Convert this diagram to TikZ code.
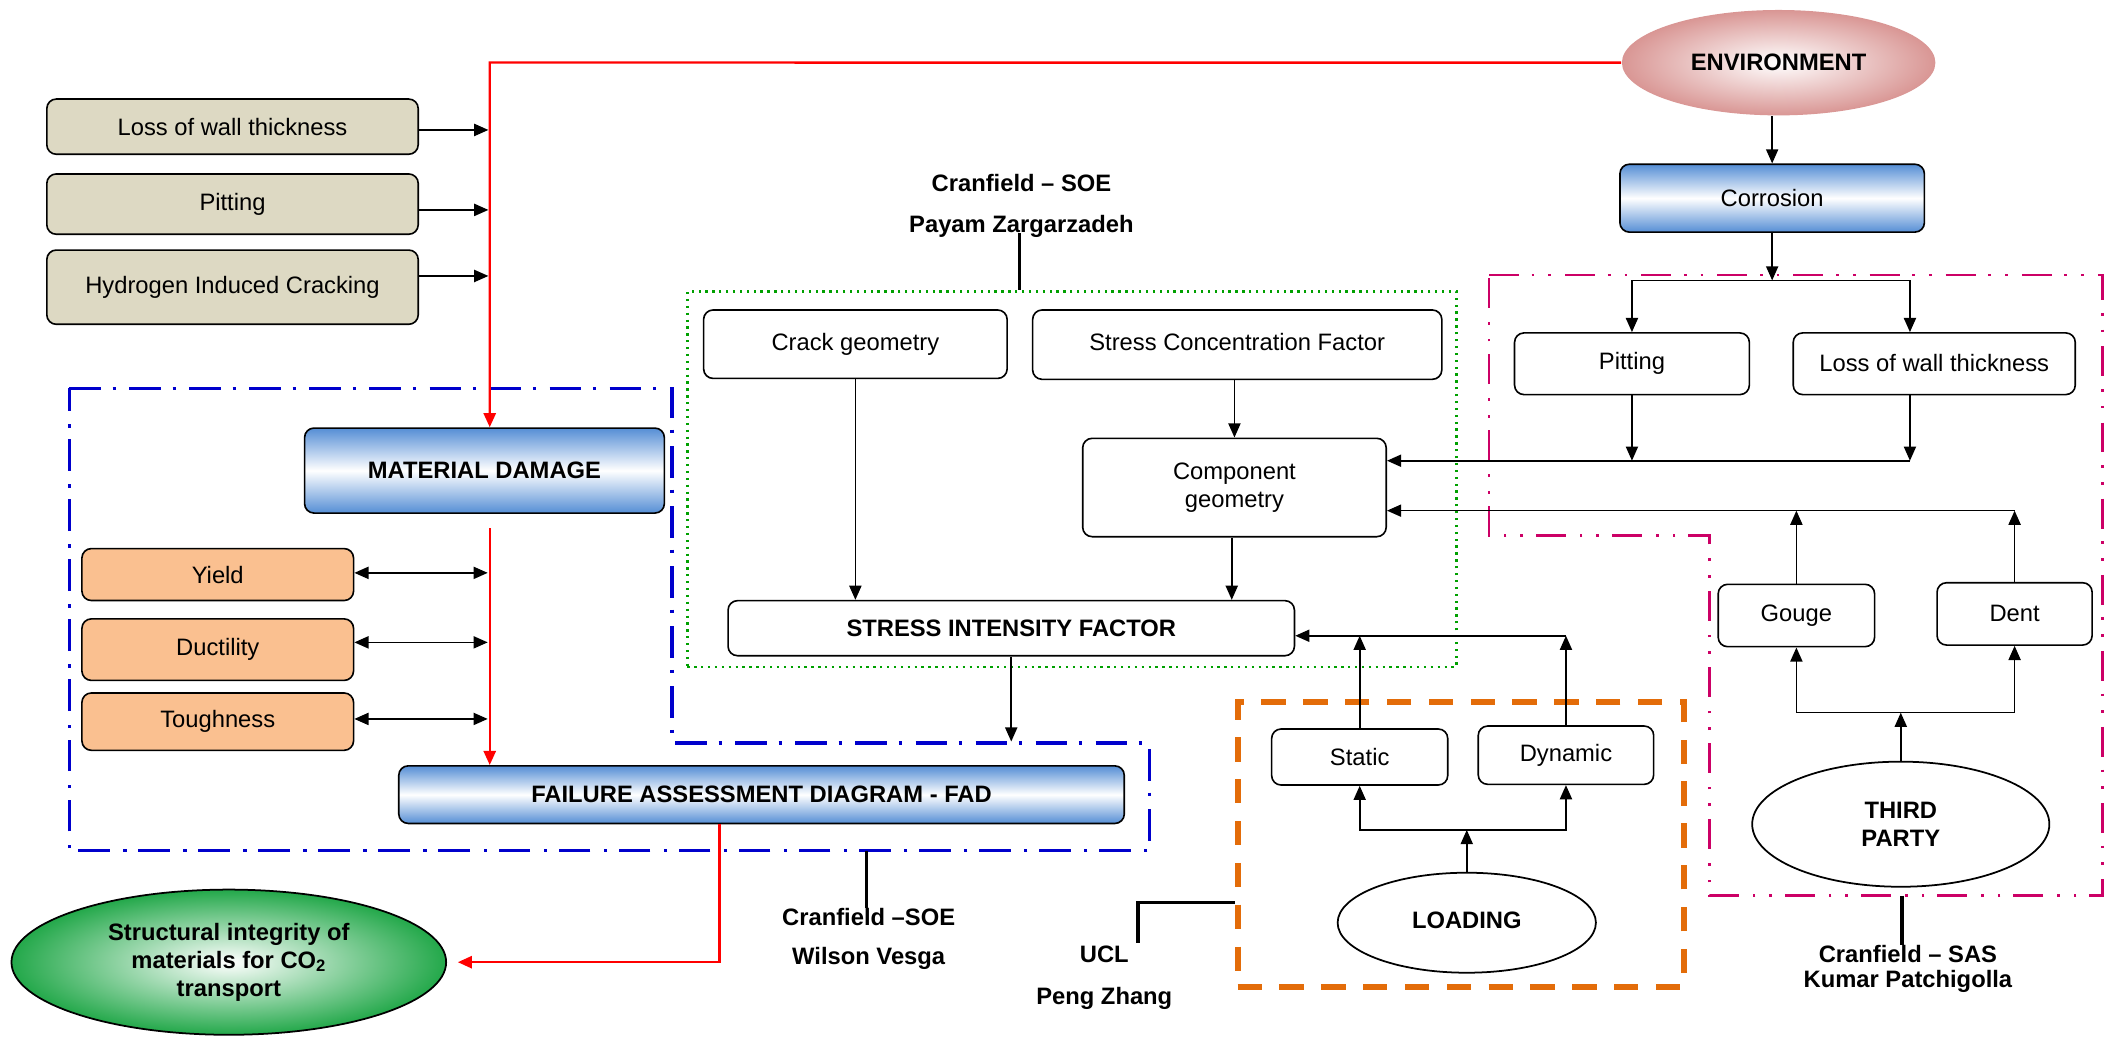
\documentclass[tikz,border=0pt]{standalone}
\usepackage{fontspec}
\setmainfont{Liberation Sans}
\usetikzlibrary{arrows.meta,shapes.geometric,calc}
\definecolor{beige}{HTML}{DDD9C3}
\definecolor{peach}{HTML}{FAC090}
\definecolor{bluG}{HTML}{558ED5}
\definecolor{envR}{HTML}{D99694}
\definecolor{grnG}{HTML}{23A84A}
\definecolor{grnD}{HTML}{00A000}
\definecolor{bluD}{HTML}{0000CC}
\definecolor{magD}{HTML}{CC0066}
\definecolor{orgD}{HTML}{E36C09}
\newcommand\myfs{\fontsize{17.6}{21}\selectfont}
\begin{document}
\begin{tikzpicture}[x=1pt,y=-1pt,
  >={Triangle[length=10.5pt,width=9pt]},
  every node/.style={font=\myfs, inner sep=0pt},
  box/.style={draw, line width=1.2pt, rounded corners=7pt, fill=white},
  tanbox/.style={box, fill=beige},
  peachbox/.style={box, fill=peach},
  gradbox/.style={box, top color=bluG, bottom color=bluG, middle color=white, font=\myfs\bfseries},
  oval/.style={ellipse, draw, line width=1.3pt, fill=white, font=\myfs\bfseries},
  arr/.style={->, line width=1.2pt},
  dblarr/.style={<->, line width=1.2pt},
  redarr/.style={->, draw=red, line width=1.8pt},
  lbl/.style={line width=2.6pt},
  lab/.style={font=\myfs\bfseries},
  grnreg/.style={draw=grnD, line width=1.7pt, dash pattern=on 1.7pt off 3.4pt},
  orgreg/.style={draw=orgD, line width=4.5pt, dash pattern=on 18pt off 13pt},
  blureg/.style={draw=bluD, line width=2.5pt, dash pattern=on 23.5pt off 8.6pt on 2.5pt off 9.9pt},
  magreg/.style={draw=magD, line width=2pt, dash pattern=on 22.2pt off 9.4pt on 2pt off 10.4pt on 2pt off 10.4pt}
]
\useasboundingbox (0,0) rectangle (1568,768);

% ---------- region outlines ----------
\node[grnreg, minimum width=569.8pt, minimum height=277.9pt] (grn) at (794.3,355.05) {};
\node[orgreg, minimum width=330.5pt, minimum height=211.6pt] (org) at (1082.35,625.8) {};
\draw[blureg] (51.3,287.8) -- (497.9,287.8) -- (497.9,550.7) -- (851.8,550.7) -- (851.8,630.4) -- (51.3,630.4) -- cycle;
\draw[magreg] (1103.4,203.8) -- (1558.1,203.8) -- (1558.1,663.7) -- (1266.6,663.7) -- (1266.6,397) -- (1103.4,397) -- cycle;
\coordinate (bb) at (642,630.4);
\coordinate (mb) at (1409.3,663.7);

% ---------- left column ----------
\node[tanbox, minimum width=275.2pt, minimum height=40.9pt] (lw1) at (172.3,93.85) {Loss of wall thickness};
\node[tanbox, minimum width=275.2pt, minimum height=44.7pt] (pit1) at (172.3,151.25) {Pitting};
\node[tanbox, minimum width=275.2pt, minimum height=55pt] (hic) at (172.3,212.8) {Hydrogen Induced Cracking};

\node[gradbox, minimum width=266.6pt, minimum height=63pt] (md) at (359,348.7) {MATERIAL DAMAGE};
\node[peachbox, minimum width=201.3pt, minimum height=38.5pt] (yield) at (161.35,425.75) {Yield};
\node[peachbox, minimum width=201.3pt, minimum height=45.6pt] (duct) at (161.35,481.4) {Ductility};
\node[peachbox, minimum width=201.3pt, minimum height=42.5pt] (tough) at (161.35,534.75) {Toughness};
\node[gradbox, minimum width=537.6pt, minimum height=42.7pt] (fad) at (564.3,588.85) {FAILURE ASSESSMENT DIAGRAM - FAD};
\node[oval, shading=radial, inner color=white, outer color=grnG, align=center, minimum width=322.1pt, minimum height=107.6pt] (goal) at (169.55,713) {Structural integrity of\\materials for CO\textsubscript{2}\\transport};

% ---------- centre ----------
\node[box, minimum width=224.9pt, minimum height=50.7pt] (crack) at (633.85,255.05) {\raisebox{3pt}{Crack geometry}};
\node[box, minimum width=303.2pt, minimum height=51.4pt] (scf) at (916.8,255.4) {\raisebox{4pt}{Stress Concentration Factor}};
\node[box, align=center, minimum width=224.9pt, minimum height=72.9pt] (comp) at (914.75,361.25) {Component\\geometry};
\node[box, font=\myfs\bfseries, minimum width=419.7pt, minimum height=40.8pt] (sif) at (749.35,465.5) {STRESS INTENSITY FACTOR};

\node[box, minimum width=130.5pt, minimum height=41.5pt] (static) at (1007.55,560.95) {Static};
\node[box, minimum width=130pt, minimum height=43.2pt] (dyn) at (1160.4,559.6) {Dynamic};
\node[oval, minimum width=191.4pt, minimum height=74.1pt] (load) at (1086.9,683.75) {\raisebox{4pt}{LOADING}};

% ---------- right ----------
\node[oval, draw=none, shading=radial, inner color=white, outer color=envR, minimum width=232.3pt, minimum height=78.1pt] (env) at (1318,46.45) {ENVIRONMENT};
\node[gradbox, font=\myfs, minimum width=225.6pt, minimum height=50.3pt] (corr) at (1313.2,146.85) {Corrosion};
\node[box, minimum width=174pt, minimum height=45.7pt] (pit2) at (1209.3,269.55) {\raisebox{2pt}{Pitting}};
\node[box, minimum width=209pt, minimum height=45.7pt] (lwt2) at (1433.3,269.55) {\raisebox{2pt}{Loss of wall thickness}};
\node[box, minimum width=115.9pt, minimum height=46.2pt] (gouge) at (1331.15,456.1) {Gouge};
\node[box, minimum width=114.9pt, minimum height=46.2pt] (dent) at (1492.85,454.9) {Dent};
\node[oval, align=center, minimum width=220.2pt, minimum height=92.7pt] (third) at (1408.5,610.75) {THIRD\\PARTY};

% ---------- labels ----------
\node[lab] (soe1) at (756.9,135.9) {Cranfield – SOE};
\node[lab] (soe2) at (756.9,167.5) {Payam Zargarzadeh};
\node[lab] (soe3) at (643.7,679.4) {Cranfield –SOE};
\node[lab] (wv) at (643.7,710.4) {Wilson Vesga};
\node[lab] (ucl) at (818.3,706.9) {UCL};
\node[lab] (pz) at (818.3,739.5) {Peng Zhang};
\node[lab] (sas) at (1413.8,706.9) {Cranfield – SAS};
\node[lab] (kp) at (1413.8,727.4) {Kumar Patchigolla};

% ---------- red connectors ----------
\coordinate (rl) at (362.9,46.3);
\draw[redarr] (env.west) -- (rl) -- (rl |- md.north);
\draw[redarr] ($(md.south -| rl)+(0,10.5)$) -- (rl |- fad.north);
\draw[redarr] ($(fad.south)+(-31.2,0)$) |- ($(goal.east)+(8,0)$);

% left inputs
\draw[arr, shorten >=1pt] ([yshift=-2.45pt]lw1.east) coordinate (a1) -- (a1 -| rl);
\draw[arr, shorten >=1pt] ([yshift=-4.3pt]pit1.east) coordinate (a2) -- (a2 -| rl);
\draw[arr, shorten >=1pt] ([yshift=8.3pt]hic.east) coordinate (a3) -- (a3 -| rl);

% properties
\draw[dblarr, shorten >=1.5pt] ([yshift=1.25pt]yield.east) coordinate (b1) -- (b1 -| rl);
\draw[dblarr, shorten >=1.5pt] ([yshift=5.4pt]duct.east) coordinate (b2) -- (b2 -| rl);
\draw[dblarr, shorten >=1.5pt] ([yshift=2pt]tough.east) coordinate (b3) -- (b3 -| rl);

% SIF to FAD
\coordinate (fadin) at (749.35,549.5);
\draw[arr] (sif.south) -- (fadin);

% centre
\draw[arr] (crack.south) -- (crack.south |- sif.north);
\draw[arr] (scf.south -| comp.north) -- (comp.north);
\draw[arr] ($(comp.south)+(-2,0)$) coordinate (c1) -- (c1 |- sif.north);

% environment branch
\draw[arr] (env.south -| corr.north) -- (corr.north);
\coordinate (s1) at (1313.2,207.8);
\draw[arr] (corr.south) -- (s1);
\draw[arr] (s1) -| (pit2.north);
\draw[arr] (s1) -| ($(lwt2.north)+(-18,0)$);
\coordinate (j2) at (1415.3,341.4);
\draw[arr] (pit2.south) -- (pit2.south |- j2);
\draw[arr] ($(lwt2.south)+(-18,0)$) -- (j2);
\draw[arr] (j2) -- ([yshift=19.85pt]comp.east);

% third party branch
\coordinate (j3) at (1492.85,378.4);
\draw[arr] (gouge.north) -- (gouge.north |- j3);
\draw[arr] (dent.north) -- (j3);
\draw[arr] (j3) -- ([yshift=-17.15pt]comp.east);
\coordinate (j4) at (1408.5,528.1);
\draw[arr] (third.north) -- (j4);
\draw[arr] (j4) -| (gouge.south);
\draw[arr] (j4) -| (dent.south);

% loading branch
\coordinate (j5) at (1086.9,615);
\draw[arr] (load.north) -- (j5);
\draw[arr] (j5) -| (static.south);
\draw[arr] (j5) -| (dyn.south);
\coordinate (j6) at (1160.4,471.1);
\draw[arr] (static.north) -- (static.north |- j6);
\draw[arr] (dyn.north) -- (j6);
\draw[arr] (j6) -- ([yshift=-5.6pt]sif.east);

% ---------- label leader lines ----------
\coordinate (p1) at (755.4,172.9);
\draw[lbl] (p1) -- (p1 |- grn.north);
\draw[lbl] (bb) -- (bb |- soe3.north);
\coordinate (u1) at (843.3,698.6);
\coordinate (u2) at (843.3,668.6);
\draw[lbl] (u1) -- (u2) -- (u2 -| org.west);
\draw[lbl] (mb) -- (mb |- sas.north);
\end{tikzpicture}
\end{document}
